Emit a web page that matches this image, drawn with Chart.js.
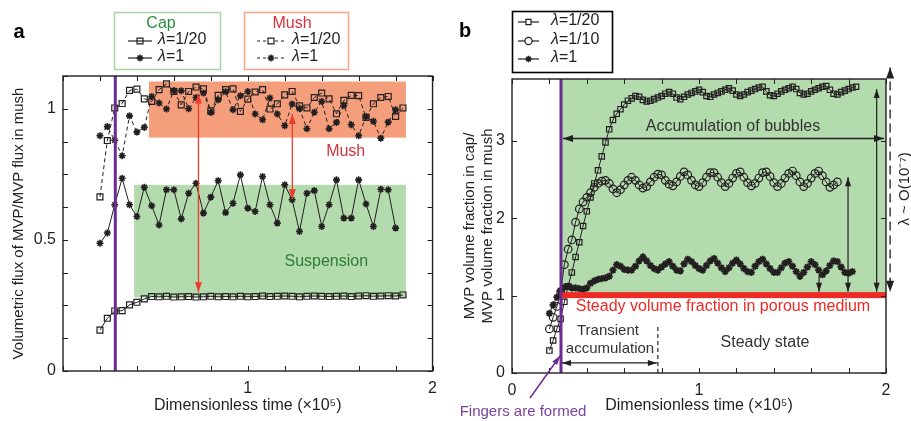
<!DOCTYPE html>
<html>
<head>
<meta charset="utf-8">
<script src="https://cdn.jsdelivr.net/npm/chart.js@4.4.1/dist/chart.umd.min.js"></script>
<style>
  html, body { margin: 0; padding: 0; background: #fff; }
  #wrap { position: relative; width: 911px; height: 421px; overflow: hidden; }
  canvas { position: absolute; top: 0; }
  #panelA { left: 0; }
  #panelB { left: 445px; }
</style>
</head>
<body>
<div id="wrap">
  <canvas id="panelA" width="445" height="421"></canvas>
  <canvas id="panelB" width="466" height="421"></canvas>
</div>
<script>
// ---- panel a data ----
const timeA = [0.2, 0.24, 0.28, 0.32, 0.36, 0.4, 0.44, 0.48, 0.52, 0.56, 0.6, 0.64, 0.68, 0.72,
  0.76, 0.8, 0.84, 0.88, 0.92, 0.96, 1.0, 1.04, 1.08, 1.12, 1.16, 1.2, 1.24, 1.28, 1.32, 1.36,
  1.4, 1.44, 1.48, 1.52, 1.56, 1.6, 1.64, 1.68, 1.72, 1.76, 1.8, 1.84];
const capLam20 = [0.156, 0.201, 0.229, 0.230, 0.252, 0.262, 0.275, 0.284, 0.283, 0.285, 0.282,
  0.283, 0.284, 0.282, 0.283, 0.285, 0.283, 0.284, 0.283, 0.285, 0.283, 0.284, 0.286, 0.284,
  0.285, 0.286, 0.285, 0.283, 0.285, 0.286, 0.285, 0.284, 0.285, 0.286, 0.284, 0.286, 0.287,
  0.285, 0.286, 0.287, 0.286, 0.290];
const capLam1 = [0.487, 0.526, 0.634, 0.735, 0.634, 0.589, 0.701, 0.630, 0.557, 0.691, 0.691,
  0.580, 0.678, 0.716, 0.602, 0.663, 0.726, 0.604, 0.640, 0.748, 0.621, 0.608, 0.742, 0.634,
  0.564, 0.710, 0.653, 0.532, 0.678, 0.688, 0.551, 0.634, 0.729, 0.583, 0.583, 0.729, 0.637,
  0.551, 0.693, 0.691, 0.545];
const mushLam20 = [0.664, 0.879, 1.003, 1.020, 1.070, 1.075, 1.038, 1.028, 1.073, 1.095, 1.066,
  1.015, 1.066, 1.083, 1.076, 0.992, 1.051, 1.073, 1.076, 0.990, 1.037, 1.064, 1.073, 0.999,
  1.019, 1.053, 1.066, 1.011, 1.003, 1.043, 1.060, 1.038, 0.981, 1.032, 1.051, 1.050, 0.967,
  1.019, 1.043, 1.047, 0.971, 1.003];
const mushLam1 = [0.897, 0.932, 0.880, 0.821, 0.973, 0.911, 0.929, 1.047, 1.022, 0.999, 1.070,
  1.069, 1.000, 1.043, 1.060, 0.986, 1.034, 1.065, 0.996, 1.050, 1.066, 0.980, 0.958, 1.041,
  0.980, 0.935, 1.018, 1.000, 0.924, 0.987, 1.028, 0.924, 0.948, 1.013, 0.939, 0.897, 0.970,
  0.952, 0.888, 0.949, 0.996];
const fluxTickLabels = ['0', '0.5', '1'];
const timeTickLabelsA = ['1', '2'];
// [t start, t end, low, high]
const mushBand = [0.465, 1.856, 0.89, 1.104];
const suspensionBand = [0.385, 1.856, 0.281, 0.71];
const fingerTimeA = 0.283;
// [t, top, bottom]
const redArrows = [[0.733, 1.058, 0.300], [1.241, 0.98, 0.655]];

// ---- panel b data ----
const timeB = [0.2, 0.22, 0.24, 0.26, 0.28, 0.3, 0.32, 0.34, 0.36, 0.38, 0.4, 0.42, 0.44, 0.46,
  0.48, 0.5, 0.52, 0.54, 0.56, 0.58, 0.6, 0.62, 0.64, 0.66, 0.68, 0.7, 0.72, 0.74, 0.76, 0.78,
  0.8, 0.82, 0.84, 0.86, 0.88, 0.9, 0.92, 0.94, 0.96, 0.98, 1.0, 1.02, 1.04, 1.06, 1.08, 1.1,
  1.12, 1.14, 1.16, 1.18, 1.2, 1.22, 1.24, 1.26, 1.28, 1.3, 1.32, 1.34, 1.36, 1.38, 1.4, 1.42,
  1.44, 1.46, 1.48, 1.5, 1.52, 1.54, 1.56, 1.58, 1.6, 1.62, 1.64, 1.66, 1.68, 1.7, 1.72, 1.74,
  1.76, 1.78, 1.8, 1.82, 1.84];
const fracLam20 = [0.29, 0.42, 0.57, 0.70, 0.92, 1.12, 1.30, 1.50, 1.69, 1.90,
  2.09, 2.27, 2.45, 2.62, 2.80, 2.98, 3.15, 3.27, 3.35, 3.41,
  3.47, 3.52, 3.55, 3.58, 3.57, 3.53, 3.51, 3.52, 3.54, 3.56,
  3.58, 3.61, 3.63, 3.61, 3.56, 3.54, 3.57, 3.60, 3.62, 3.64,
  3.66, 3.63, 3.58, 3.57, 3.60, 3.62, 3.64, 3.66, 3.68, 3.65,
  3.60, 3.58, 3.60, 3.63, 3.65, 3.67, 3.69, 3.70, 3.64, 3.59,
  3.58, 3.61, 3.64, 3.66, 3.68, 3.70, 3.67, 3.62, 3.60, 3.61,
  3.64, 3.66, 3.68, 3.70, 3.71, 3.66, 3.61, 3.60, 3.63, 3.65,
  3.67, 3.69, 3.70];
const fracLam10 = [0.57, 0.72, 0.86, 1.05, 1.40, 1.60, 1.72, 1.95, 2.12, 2.21,
  2.27, 2.33, 2.40, 2.45, 2.48, 2.49, 2.45, 2.38, 2.33, 2.37,
  2.43, 2.49, 2.53, 2.49, 2.43, 2.39, 2.41, 2.47, 2.53, 2.57,
  2.56, 2.49, 2.44, 2.42, 2.47, 2.54, 2.60, 2.56, 2.49, 2.43,
  2.41, 2.46, 2.53, 2.59, 2.59, 2.53, 2.46, 2.41, 2.45, 2.52,
  2.58, 2.60, 2.53, 2.46, 2.42, 2.45, 2.52, 2.59, 2.60, 2.54,
  2.46, 2.41, 2.45, 2.52, 2.58, 2.61, 2.55, 2.47, 2.41, 2.45,
  2.52, 2.58, 2.61, 2.55, 2.47, 2.40, 2.43, 2.47];
const fracLam1 = [0.77, 0.88, 0.98, 1.06, 1.11, 1.12, 1.10, 1.10, 1.09, 1.08,
  1.10, 1.16, 1.19, 1.21, 1.22, 1.23, 1.25, 1.33, 1.40, 1.38,
  1.34, 1.33, 1.33, 1.38, 1.45, 1.50, 1.45, 1.39, 1.35, 1.33,
  1.37, 1.41, 1.44, 1.38, 1.33, 1.32, 1.41, 1.47, 1.44, 1.39,
  1.35, 1.33, 1.39, 1.45, 1.48, 1.42, 1.36, 1.31, 1.36, 1.42,
  1.46, 1.41, 1.35, 1.31, 1.30, 1.38, 1.44, 1.47, 1.41, 1.35,
  1.30, 1.30, 1.36, 1.42, 1.44, 1.38, 1.31, 1.25, 1.30, 1.37,
  1.44, 1.40, 1.33, 1.27, 1.32, 1.39, 1.45, 1.44, 1.37, 1.30,
  1.29, 1.31];
const fracTickLabels = ['0', '1', '2', '3'];
const timeTickLabelsB = ['0', '1', '2'];
const fingerTimeB = 0.262;
const steadyFraction = 1;
const transientEnd = 0.78;

// ---- styling ----
const FONT = '"Liberation Sans", Arial, Helvetica, sans-serif';
const INK = '#231f20';
const PURPLE = '#6a2c91';
const RED = '#ee3b2e';

Chart.defaults.font.family = FONT;
Chart.defaults.color = INK;

const pts = (xs, ys) => ys.map((v, i) => ({ x: xs[i], y: v }));
const fmt = v => String(+v.toFixed(3));

function series(label, xs, ys, style, r, dashed, starWidth) {
  return {
    label, data: pts(xs, ys),
    borderColor: INK, borderWidth: 1, borderDash: dashed ? [4, 3] : [],
    pointStyle: style, pointRadius: r, pointBorderWidth: style === 'star' ? (starWidth || 1.6) : 1.2,
    pointBorderColor: INK, pointBackgroundColor: 'rgba(0,0,0,0)', tension: 0
  };
}

function drawMarker(ctx, style, x, y, r) {
  ctx.beginPath();
  if (style === 'rect') {
    const s = r * Math.SQRT1_2;
    ctx.rect(x - s, y - s, 2 * s, 2 * s);
  } else if (style === 'circle') {
    ctx.arc(x, y, r, 0, Math.PI * 2);
  } else {
    for (let k = 0; k < 4; k++) {
      const a = k * Math.PI / 4;
      ctx.moveTo(x + r * Math.cos(a), y + r * Math.sin(a));
      ctx.lineTo(x - r * Math.cos(a), y - r * Math.sin(a));
    }
  }
  ctx.stroke();
}

function head(ctx, x, y, ang, len, wid) {
  ctx.beginPath();
  ctx.moveTo(x, y);
  ctx.lineTo(x - len * Math.cos(ang) + wid / 2 * Math.sin(ang), y - len * Math.sin(ang) - wid / 2 * Math.cos(ang));
  ctx.lineTo(x - len * Math.cos(ang) - wid / 2 * Math.sin(ang), y - len * Math.sin(ang) + wid / 2 * Math.cos(ang));
  ctx.closePath();
  ctx.fill();
}

function arrow(ctx, x1, y1, x2, y2, both, color, lw, len, wid, dash) {
  const ang = Math.atan2(y2 - y1, x2 - x1);
  ctx.save();
  ctx.strokeStyle = color; ctx.fillStyle = color; ctx.lineWidth = lw;
  ctx.setLineDash(dash || []);
  ctx.beginPath(); ctx.moveTo(x1, y1); ctx.lineTo(x2, y2); ctx.stroke();
  ctx.setLineDash([]);
  head(ctx, x2, y2, ang, len, wid);
  if (both) head(ctx, x1, y1, ang + Math.PI, len, wid);
  ctx.restore();
}

function lambdaText(ctx, x, y, rest, size) {
  ctx.textAlign = 'left'; ctx.textBaseline = 'middle'; ctx.fillStyle = INK;
  ctx.font = `italic ${size}px ${FONT}`;
  ctx.fillText('λ', x, y);
  const w = ctx.measureText('λ').width;
  ctx.font = `${size}px ${FONT}`;
  ctx.fillText(rest, x + w, y);
}

function label(ctx, text, x, y, size, color, weight) {
  ctx.font = `${weight || ''} ${size}px ${FONT}`;
  ctx.fillStyle = color; ctx.textAlign = 'center'; ctx.textBaseline = 'middle';
  ctx.fillText(text, x, y);
}

function frame(chart, tl) {
  const { ctx, chartArea: ca, scales: { x, y } } = chart;
  ctx.save();
  ctx.strokeStyle = INK; ctx.lineWidth = 1.4;
  ctx.strokeRect(ca.left, ca.top, ca.right - ca.left, ca.bottom - ca.top);
  ctx.lineWidth = 1;
  ctx.beginPath();
  x.ticks.forEach(t => {
    const px = Math.round(x.getPixelForValue(t.value)) + 0.5;
    ctx.moveTo(px, ca.bottom); ctx.lineTo(px, ca.bottom - tl);
    ctx.moveTo(px, ca.top); ctx.lineTo(px, ca.top + tl);
  });
  y.ticks.forEach(t => {
    const py = Math.round(y.getPixelForValue(t.value)) + 0.5;
    ctx.moveTo(ca.left, py); ctx.lineTo(ca.left + tl, py);
    ctx.moveTo(ca.right, py); ctx.lineTo(ca.right - tl, py);
  });
  ctx.stroke();
  ctx.restore();
}

function axisX(labels, titleText, height) {
  return {
    type: 'linear', min: 0, max: 2,
    afterFit: s => { s.height = height; },
    grid: { display: false, drawTicks: false }, border: { display: false },
    ticks: { stepSize: 0.2, autoSkip: false, maxRotation: 0, padding: 8, color: INK,
      font: { size: 16 }, callback: v => labels.includes(fmt(v)) ? fmt(v) : '' },
    title: { display: true, text: titleText, color: INK, font: { size: 16 }, padding: { top: 0, bottom: 6 } }
  };
}

// ---- panel a ----
const overlayA = {
  id: 'overlayA',
  beforeDatasetsDraw(chart) {
    const { ctx, scales: { x, y } } = chart;
    ctx.save();
    [[mushBand, '#f59e7c'], [suspensionBand, '#b3dbad']].forEach(([b, c]) => {
      ctx.fillStyle = c;
      const x0 = x.getPixelForValue(b[0]), x1 = x.getPixelForValue(b[1]);
      const y0 = y.getPixelForValue(b[3]), y1 = y.getPixelForValue(b[2]);
      ctx.fillRect(x0, y0, x1 - x0, y1 - y0);
    });
    label(ctx, 'Mush', x.getPixelForValue(1.53), y.getPixelForValue(0.836), 16, '#d0363c');
    label(ctx, 'Suspension', x.getPixelForValue(1.425), y.getPixelForValue(0.416), 16, '#2e7d3a');
    ctx.restore();
  },
  afterDatasetsDraw(chart) {
    const { ctx, chartArea: ca, scales: { x, y } } = chart;
    ctx.save();
    const fx = x.getPixelForValue(fingerTimeA);
    ctx.strokeStyle = PURPLE; ctx.lineWidth = 3;
    ctx.beginPath(); ctx.moveTo(fx, ca.top); ctx.lineTo(fx, ca.bottom); ctx.stroke();
    redArrows.forEach(([t, hi, lo]) => {
      const px = x.getPixelForValue(t);
      arrow(ctx, px, y.getPixelForValue(hi), px, y.getPixelForValue(lo), true, RED, 1.3, 10, 7);
    });
    ctx.restore();
    frame(chart, 5);

    ctx.save();
    label(ctx, 'a', 19, 32, 20, '#000', 'bold');
    // cap legend
    ctx.strokeStyle = '#a3d69e'; ctx.lineWidth = 1.5;
    ctx.strokeRect(114.5, 12.5, 106, 57);
    label(ctx, 'Cap', 161, 24, 16, '#2e8b3e');
    // mush legend
    ctx.strokeStyle = '#f5a585';
    ctx.strokeRect(244.5, 12.5, 104, 57);
    label(ctx, 'Mush', 292, 24, 16, '#d9343c');
    const rows = [[41, 'rect', '=1/20', 4.2], [58, 'star', '=1', 3.5]];
    rows.forEach(([ry, st, txt, r]) => {
      ctx.strokeStyle = INK; ctx.lineWidth = 1.2;
      ctx.setLineDash([]);
      ctx.beginPath(); ctx.moveTo(128, ry); ctx.lineTo(152, ry); ctx.stroke();
      ctx.lineWidth = st === 'star' ? 1.6 : 1.2;
      drawMarker(ctx, st, 140, ry, r);
      lambdaText(ctx, 158, ry - 1, txt, 16);
      ctx.lineWidth = 1.2;
      ctx.setLineDash([3, 3]);
      ctx.beginPath(); ctx.moveTo(257, ry); ctx.lineTo(286, ry); ctx.stroke();
      ctx.setLineDash([]);
      ctx.lineWidth = st === 'star' ? 1.6 : 1.2;
      if (st === 'rect') { ctx.fillStyle = '#fff'; const s = r * Math.SQRT1_2; ctx.fillRect(271 - s, ry - s, 2 * s, 2 * s); }
      drawMarker(ctx, st, 271, ry, r);
      lambdaText(ctx, 292, ry - 1, txt, 16);
    });
    ctx.restore();
  }
};

new Chart(document.getElementById('panelA'), {
  type: 'line',
  data: {
    datasets: [
      series('Cap λ=1/20', timeA, capLam20, 'rect', 4.2, false),
      series('Cap λ=1', timeA, capLam1, 'star', 3.5, false),
      series('Mush λ=1/20', timeA, mushLam20, 'rect', 4.2, true),
      series('Mush λ=1', timeA, mushLam1, 'star', 3.5, true)
    ]
  },
  options: {
    responsive: false, animation: false, devicePixelRatio: 1,
    layout: { padding: { top: 76, right: 8, left: 0, bottom: 0 } },
    plugins: { legend: { display: false }, tooltip: { enabled: false } },
    scales: {
      x: axisX(timeTickLabelsA, 'Dimensionless time (×10⁵)', 50),
      y: {
        type: 'linear', min: 0, max: 1.125,
        afterFit: s => { s.width = 63; },
        grid: { display: false, drawTicks: false }, border: { display: false },
        ticks: { stepSize: 0.125, autoSkip: false, padding: 7, color: INK, font: { size: 16 },
          callback: v => fluxTickLabels.includes(fmt(v)) ? fmt(v) : '' },
        title: { display: true, text: 'Volumetric flux of MVP/MVP flux in mush', color: INK,
          font: { size: 15 }, padding: { top: 10, bottom: 0 } }
      }
    }
  },
  plugins: [overlayA]
});

// ---- panel b ----
const overlayB = {
  id: 'overlayB',
  beforeDatasetsDraw(chart) {
    const { ctx, chartArea: ca, scales: { x, y } } = chart;
    ctx.save();
    const fx = x.getPixelForValue(fingerTimeB);
    const sy = y.getPixelForValue(steadyFraction);
    ctx.fillStyle = '#b3dbad';
    ctx.fillRect(fx, ca.top, ca.right - fx, sy - ca.top);
    ctx.restore();
  },
  afterDatasetsDraw(chart) {
    const { ctx, chartArea: ca, scales: { x, y } } = chart;
    const X = v => x.getPixelForValue(v), Y = v => y.getPixelForValue(v);
    ctx.save();
    const fx = X(fingerTimeB);
    const sy = Y(steadyFraction);
    ctx.fillStyle = '#ee2a24';
    ctx.fillRect(fx, sy - 3.5, ca.right - fx, 6);
    ctx.strokeStyle = PURPLE; ctx.lineWidth = 3;
    ctx.beginPath(); ctx.moveTo(fx, ca.top); ctx.lineTo(fx, ca.bottom); ctx.stroke();

    // accumulation arrow + texts
    arrow(ctx, fx + 2, Y(3.03), ca.right - 2, Y(3.03), true, INK, 1.5, 10, 7);
    label(ctx, 'Accumulation of bubbles', X(1.182), Y(3.19), 16, '#333');
    label(ctx, 'Steady volume fraction in porous medium', X(1.128), Y(0.854), 16, '#ee2a24');
    label(ctx, 'Transient', X(0.513), Y(0.543), 15, '#333');
    label(ctx, 'accumulation', X(0.524), Y(0.31), 15, '#333');
    label(ctx, 'Steady state', X(1.353), Y(0.388), 16, '#333');
    arrow(ctx, fx + 1, Y(0.13), X(transientEnd) - 1, Y(0.13), true, INK, 1.2, 9, 6);
    ctx.strokeStyle = INK; ctx.lineWidth = 1.2; ctx.setLineDash([4, 3]);
    ctx.beginPath(); ctx.moveTo(X(transientEnd), ca.bottom); ctx.lineTo(X(transientEnd), Y(0.634)); ctx.stroke();
    ctx.setLineDash([]);

    // right-hand arrows
    arrow(ctx, X(1.642), Y(1.27), X(1.642), Y(1.05), false, INK, 1.2, 9, 6);
    arrow(ctx, X(1.797), Y(2.53), X(1.797), Y(1.05), true, INK, 1.2, 9, 6);
    arrow(ctx, X(1.95), Y(3.67), X(1.95), Y(1.05), true, INK, 1.2, 9, 6);
    arrow(ctx, X(2.022), Y(3.95), X(2.022), Y(1.05), true, INK, 1.3, 11, 8, [9, 5]);
    ctx.save();
    ctx.translate(X(2.1), Y(2.38));
    ctx.rotate(-Math.PI / 2);
    label(ctx, 'λ ~ O(10⁻⁷)', 0, 0, 15, INK);
    ctx.restore();
    ctx.restore();

    frame(chart, 5);

    ctx.save();
    label(ctx, 'b', 20, 31, 20, '#000', 'bold');
    // fingers annotation
    arrow(ctx, 85, 398, X(fingerTimeB) - 1, Y(0.22), false, PURPLE, 1.5, 9, 6);
    label(ctx, 'Fingers are formed', 78, 412, 15, '#7b3fa0');
    // legend
    ctx.strokeStyle = '#000'; ctx.lineWidth = 1.6;
    ctx.strokeRect(67.5, 11.5, 100, 61);
    [[22, 'rect', '=1/20', 3.6], [41, 'circle', '=1/10', 3.6], [59, 'star', '=1', 3.2]].forEach(([ry, st, txt, r]) => {
      ctx.strokeStyle = INK; ctx.lineWidth = 1.2;
      ctx.beginPath(); ctx.moveTo(73, ry); ctx.lineTo(94, ry); ctx.stroke();
      ctx.fillStyle = '#fff';
      if (st === 'rect') { const s = r * Math.SQRT1_2; ctx.fillRect(83.5 - s, ry - s, 2 * s, 2 * s); }
      if (st === 'circle') { ctx.beginPath(); ctx.arc(83.5, ry, r, 0, Math.PI * 2); ctx.fill(); }
      ctx.lineWidth = st === 'star' ? 1.6 : 1.2;
      drawMarker(ctx, st, 83.5, ry, r);
      lambdaText(ctx, 106, ry - 1, txt, 16);
    });
    ctx.restore();
  }
};

new Chart(document.getElementById('panelB'), {
  type: 'line',
  data: {
    datasets: [
      series('λ=1/20', timeB, fracLam20, 'rect', 3.8, false),
      series('λ=1/10', timeB, fracLam10, 'circle', 3.8, false),
      series('λ=1', timeB, fracLam1, 'star', 3.6, false, 1.8)
    ]
  },
  options: {
    responsive: false, animation: false, devicePixelRatio: 1,
    layout: { padding: { top: 79, right: 25, left: 0, bottom: 0 } },
    plugins: { legend: { display: false }, tooltip: { enabled: false } },
    scales: {
      x: axisX(timeTickLabelsB, 'Dimensionless time (×10⁵)', 48),
      y: {
        type: 'linear', min: 0, max: 3.8,
        afterFit: s => { s.width = 67; },
        grid: { display: false, drawTicks: false }, border: { display: false },
        ticks: { stepSize: 1, includeBounds: false, autoSkip: false, padding: 7, color: INK, font: { size: 16 },
          callback: v => fracTickLabels.includes(fmt(v)) ? fmt(v) : '' },
        title: { display: true, text: ['MVP volume fraction in cap/', 'MVP volume fraction in mush'],
          color: INK, font: { size: 15 }, padding: { top: 16, bottom: 0 } }
      }
    }
  },
  plugins: [overlayB]
});
</script>
</body>
</html>
